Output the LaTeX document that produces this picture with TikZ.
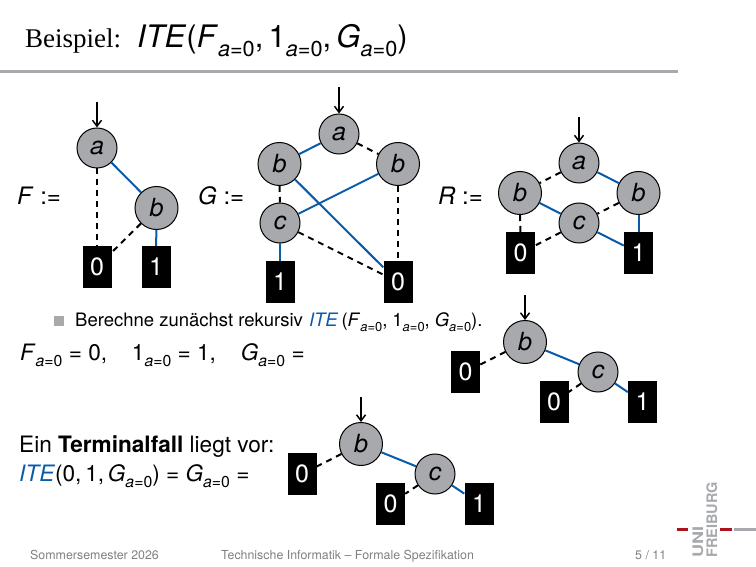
\documentclass[tikz,border=0pt]{standalone}
\usepackage{fontspec}
\setmainfont{TeX Gyre Heros}
\newfontfamily\titlefont{Liberation Serif}
\usepackage{xcolor}
\usetikzlibrary{arrows.meta, positioning}

\definecolor{unigray}{RGB}{167,169,172}
\definecolor{uniblue}{RGB}{10,90,170}
\definecolor{unired}{RGB}{170,20,30}

\newcommand{\azero}[1][0.7em]{\raisebox{-0.28em}{\fontsize{#1}{#1}\selectfont\itshape a\upshape =0}}
\newcommand{\vr}[1]{\textit{#1}}
\newcommand{\ite}{\textcolor{uniblue}{\textit{ITE}}}

\tikzset{
  decnode/.style={circle, draw=black, fill=unigray, line width=1pt, minimum size=40pt, inner sep=0pt, font=\fontsize{25}{25}\selectfont\itshape},
  decnodeb/.style={decnode, minimum size=43pt},
  leafnode/.style={rectangle, fill=black, text=white, minimum width=29pt, minimum height=42pt, inner sep=0pt, font=\fontsize{25}{25}\selectfont},
  hi/.style={draw=uniblue, line width=2pt},
  lo/.style={draw=black, line width=2pt, dash pattern=on 6pt off 5pt},
  entry/.style={draw=black, line width=1.5pt, -{Straight Barb[length=6pt,width=9pt]}},
  label/.style={inner sep=0pt, anchor=base west, font=\fontsize{24}{24}\selectfont},
  txt/.style={inner sep=0pt, anchor=base west, font=\fontsize{18.5}{18.5}\selectfont},
  big/.style={inner sep=0pt, anchor=base west, font=\fontsize{22.6}{22.6}\selectfont},
  foot/.style={inner sep=0pt, anchor=base west, text=gray, font=\fontsize{12.4}{12.4}\selectfont},
  logotext/.style={inner sep=0pt, rotate=90, anchor=base west, text=unigray, font=\fontsize{14.5}{14.5}\selectfont\bfseries},
}

\begin{document}
\begin{tikzpicture}[x=1pt, y=-1pt]
\useasboundingbox (0,0) rectangle (756,567);

% title
\node[inner sep=0pt, anchor=base west, font=\fontsize{31}{31}\selectfont] (title) at (25,48)
    {{\titlefont\fontsize{27}{27}\selectfont Beispiel:}\hspace{16pt}\textit{ITE}(\textit{F}\azero,\,1\azero,\,\textit{G}\azero)};
\fill[unigray] (0,70.5) rectangle (678,73.5);

% F
\node[label] (flabel) at (17,205) {\vr{F} :=};
\node[decnode] (fa) at (97,148) {a};
\node[decnodeb] (fb) at (156.5,208) {b};
\node[leafnode] (fzero) at (97,267) {0};
\node[leafnode] (fone) at (156,267) {1};
\coordinate (fin) at (97,102);
\draw[entry] (fin) -- (fa);
\draw[lo] (fa) -- (fzero);
\draw[hi] (fa) -- (fb);
\draw[lo] (fb) -- (fzero);
\draw[hi] (fb) -- (fone);

% G
\node[label] (glabel) at (198,205) {\vr{G} :=};
\node[decnode] (ga) at (339,134) {a};
\node[decnodeb] (gbl) at (279.5,164) {b};
\node[decnodeb] (gbr) at (398,164) {b};
\node[decnode] (gc) at (280,223) {c};
\node[leafnode] (gone) at (280,282) {1};
\node[leafnode] (gzero) at (398,282) {0};
\coordinate (gin) at (339,87);
\draw[entry] (gin) -- (ga);
\draw[hi] (ga) -- (gbl);
\draw[lo] (ga) -- (gbr);
\draw[lo] (gbl) -- (gc);
\draw[hi] (gbl) -- (gzero);
\draw[hi] (gbr) -- (gc);
\draw[lo] (gbr) -- (gzero);
\draw[hi] (gc) -- (gone);
\draw[lo] (gc) -- (gzero);

% R
\node[label] (rlabel) at (438,205) {\vr{R} :=};
\node[decnode] (ra) at (579,163) {a};
\node[decnodeb] (rbl) at (520,193) {b};
\node[decnodeb] (rbr) at (638.5,193) {b};
\node[decnode] (rc) at (579,223) {c};
\node[leafnode] (rzero) at (520.5,253) {0};
\node[leafnode] (rone) at (638.5,253) {1};
\coordinate (rin) at (579,117);
\draw[entry] (rin) -- (ra);
\draw[lo] (ra) -- (rbl);
\draw[hi] (ra) -- (rbr);
\draw[hi] (rbl) -- (rc);
\draw[lo] (rbl) -- (rzero);
\draw[lo] (rbr) -- (rc);
\draw[hi] (rbr) -- (rone);
\draw[lo] (rc) -- (rzero);
\draw[hi] (rc) -- (rone);

% text
\fill[unigray] (54,316) rectangle (64,326);
\node[txt] (step) at (75,326)
    {Berechne zunächst rekursiv\hspace{1pt} \ite\,(\textit{F}\azero,\hspace{5pt}1\azero,\hspace{5pt}\textit{G}\azero).};
\node[big] (gleich) at (20,360)
    {\textit{F}\azero{} = 0,\hspace{1.1em}1\azero{} = 1,\hspace{1.1em}\textit{G}\azero{} =};

% first cofactor
\node[decnodeb] (ub) at (525,342) {b};
\node[decnode] (uc) at (598,372) {c};
\node[leafnode] (uzeroa) at (465.5,372) {0};
\node[leafnode] (uzerob) at (554,402) {0};
\node[leafnode] (uone) at (642.5,402) {1};
\coordinate (uin) at (525,295);
\draw[entry] (uin) -- (ub);
\draw[lo] (ub) -- (uzeroa);
\draw[hi] (ub) -- (uc);
\draw[lo] (uc) -- (uzerob);
\draw[hi] (uc) -- (uone);

\node[big] (terminal) at (19,452) {Ein \textbf{Terminalfall} liegt vor:};
\node[big] (result) at (19,481) {\ite(0,\,1,\,\textit{G}\azero) = \textit{G}\azero{} =};

% second cofactor
\node[decnodeb] (vb) at (361,444) {b};
\node[decnode] (vc) at (435,474) {c};
\node[leafnode] (vzeroa) at (302,474) {0};
\node[leafnode] (vzerob) at (390.5,503.5) {0};
\node[leafnode] (vone) at (479,503.5) {1};
\coordinate (vin) at (361,397);
\draw[entry] (vin) -- (vb);
\draw[lo] (vb) -- (vzeroa);
\draw[hi] (vb) -- (vc);
\draw[lo] (vc) -- (vzerob);
\draw[hi] (vc) -- (vone);

% footer
\node[foot] (semester) at (30,559) {Sommersemester 2026};
\node[foot] (course) at (221,559) {Technische Informatik – Formale Spezifikation};
\node[foot] (page) at (635,559) {5 / 11};

% logo
\fill[unired] (677,527.5) rectangle (688,530.5);
\fill[unired] (720,527.5) rectangle (732,530.5);
\fill[unigray] (734,527.5) rectangle (756,530.5);
\node[logotext, xscale=1.25] (uni) at (703,558) {UNI};
\node[logotext] (freiburg) at (717,558) {FREIBURG};
\end{tikzpicture}
\end{document}
